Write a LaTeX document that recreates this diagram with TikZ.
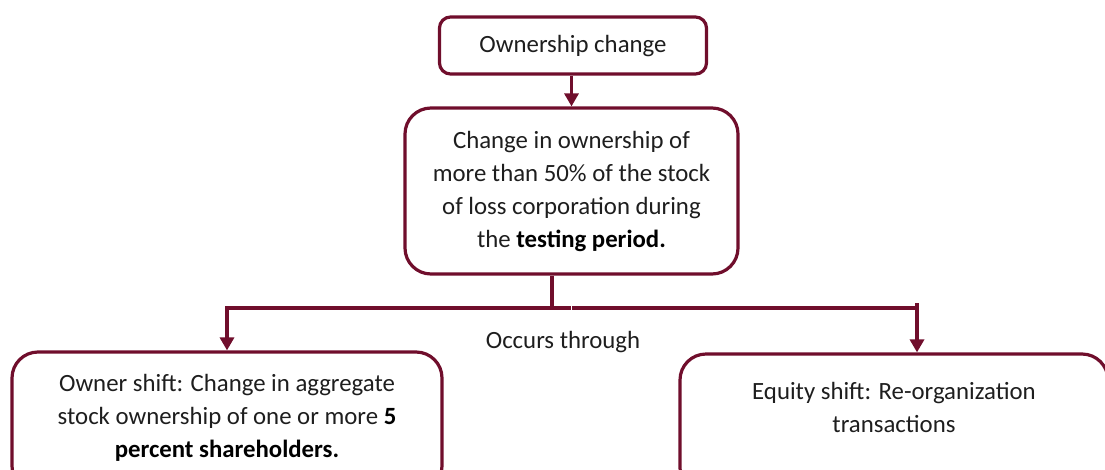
\documentclass[tikz,border=0pt]{standalone}
\usepackage{fontspec}
\setmainfont{Carlito}
\usetikzlibrary{arrows.meta,calc}
\definecolor{maroon}{RGB}{112,14,44}
\definecolor{txt}{RGB}{30,30,30}
\begin{document}
\begin{tikzpicture}[x=1pt,y=-1pt,
  box/.style={draw=maroon,line width=3.2pt,fill=white,inner sep=0pt},
  lbl/.style={align=center,text=txt,font=\fontsize{24.8}{33}\selectfont,inner sep=0pt},
  conn/.style={draw=maroon,line width=3.2pt},
  arr/.style={conn,-{Triangle[width=14pt,length=13pt]}}]
\useasboundingbox (0,0) rectangle (1105,469);
\node[box,rounded corners=11pt,minimum width=267pt,minimum height=57pt] (top) at (573,45.5) {};
\node[lbl] (toplbl) at (573,46) {Ownership change};
\node[box,rounded corners=26pt,minimum width=333pt,minimum height=166pt] (mid) at (571.5,191) {};
\node[lbl] (midlbl) at (571.5,191) {Change in ownership of\\more than 50\% of the stock\\of loss corporation during\\the \textcolor{black}{\textbf{testing period.}}};
\node[box,rounded corners=26pt,minimum width=430pt,minimum height=140pt] (left) at (227,422) {};
\node[lbl] (leftlbl) at (227,418) {Owner shift: Change in aggregate\\stock ownership of one or more \textcolor{black}{\textbf{5}}\\\textcolor{black}{\textbf{percent shareholders.}}};
\node[box,rounded corners=26pt,minimum width=428pt,minimum height=140pt] (right) at (894,424) {};
\node[lbl] (rightlbl) at (894,407.5) {Equity shift: Re-organization\\transactions};
\node[lbl] (occ) at (563,342) {Occurs through};
\coordinate (j) at (552,308);
\coordinate (jr) at (917,308);
\draw[arr] (top.south -| mid.north) -- (mid.north);
\draw[conn] (mid.south -| j) -- (j);
\draw[arr] ($(j)+(18.5,0)$) -- (j) -| (left.north);
\draw[conn] ($(j)+(20,0)$) -- (jr);
\draw[arr] ($(jr)+(0,-5)$) -- (jr |- right.north);
\end{tikzpicture}
\end{document}
